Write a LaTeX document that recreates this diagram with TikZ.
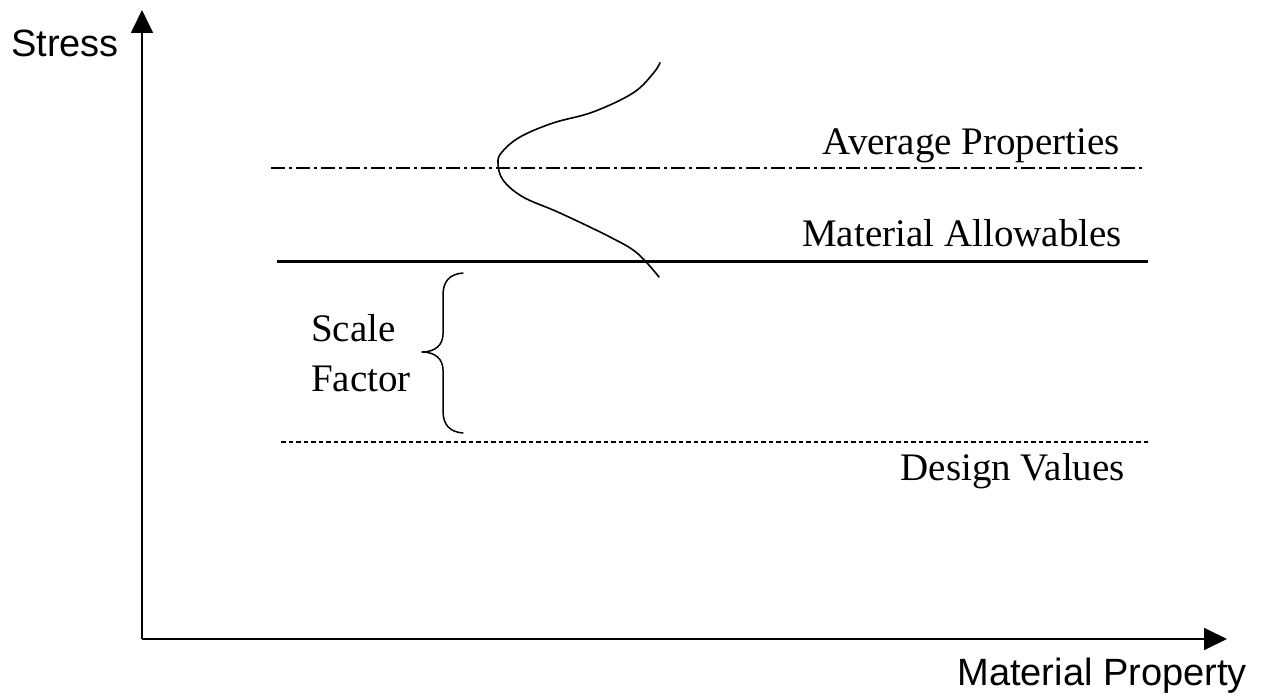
\documentclass[tikz,border=0pt]{standalone}
\usepackage{fontspec}
\setmainfont{Liberation Serif}
\newfontfamily\axisfont{Liberation Sans}
\usetikzlibrary{arrows.meta}
\begin{document}
\begin{tikzpicture}[x=1pt,y=-1pt,
  axis/.style={line width=1.8pt,-{Triangle[length=23pt,width=22pt]}},
  axislabel/.style={inner sep=0pt,font=\axisfont\fontsize{38}{44}\selectfont},
  levellabel/.style={inner sep=0pt,font=\fontsize{39}{45}\selectfont},
  avgline/.style={line width=1.6pt,dash pattern=on 14pt off 4pt on 2.5pt off 4.5pt},
  allowline/.style={line width=3pt},
  designline/.style={line width=1.4pt,dash pattern=on 4.5pt off 3pt},
  thinstroke/.style={line width=1.6pt,line join=round,line cap=round}]
\useasboundingbox (0,0) rectangle (1264,698);

% axes
\coordinate (O) at (142,639);
\coordinate (Ytip) at (142,10);
\coordinate (Xtip) at (1227,639);
\draw[axis] (O) -- (Ytip);
\draw[axis] (O) -- (Xtip);
\node[axislabel,anchor=base west] (stress) at (11,56.5) {Stress};
\node[axislabel,anchor=base east] (matprop) at (1247,685) {Material Property};

% property levels
\coordinate (avgL) at (271,168);
\coordinate (avgR) at (1143,168);
\coordinate (allL) at (277,261);
\coordinate (allR) at (1148,261);
\coordinate (desL) at (281,442);
\coordinate (desR) at (1150,442);
\draw[avgline] (avgL) -- (avgR);
\draw[allowline] (allL) -- (allR);
\draw[designline] (desL) -- (desR);
\node[levellabel,anchor=base east] (avg) at (1120,155) {Average Properties};
\node[levellabel,anchor=base east] (allow) at (1122,246.5) {Material Allowables};
\node[levellabel,anchor=base east] (design) at (1125,480) {Design Values};

% distribution of the measured property
\draw[thinstroke] plot[smooth,tension=0.6] coordinates {
  (660,62.7) (653.3,73.3) (633,93) (593,112) (553,123) (520,137)
  (502,152) (498,163) (503,180) (523,197) (560,213) (610,237)
  (637,253) (659,277)};

% scale factor brace
\draw[thinstroke,line width=1.5pt] (463,273) .. controls (450,274) and (443,281) .. (443,295)
  -- (443,334) .. controls (443,345) and (435,352) .. (422,352)
  .. controls (435,352) and (443,359) .. (443,370)
  -- (443,411) .. controls (443,425) and (450,432) .. (463,433);
\node[levellabel,font=\fontsize{39}{50}\selectfont,anchor=base west,align=left] (scale) at (311,391) {Scale\\Factor};
\end{tikzpicture}
\end{document}
